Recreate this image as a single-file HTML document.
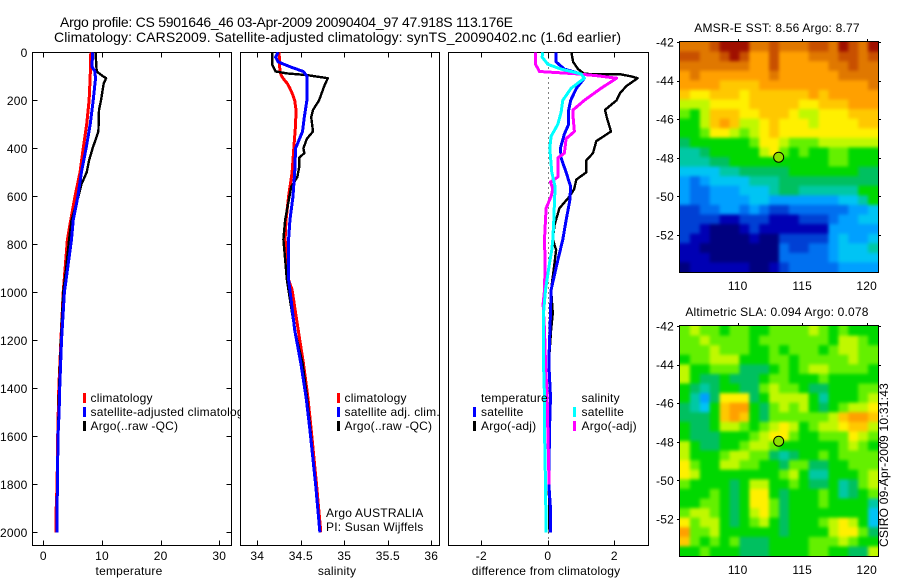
<!DOCTYPE html>
<html>
<head>
<meta charset="utf-8">
<title>Argo profile chart</title>
<style>
html,body{margin:0;padding:0;background:#fff;}
svg{display:block;}
text{font-family:"Liberation Sans",sans-serif;font-size:12px;fill:#000;letter-spacing:.2px;}
.title{font-size:14px;letter-spacing:0;}
</style>
</head>
<body>
<svg id="chart" xmlns="http://www.w3.org/2000/svg" width="900" height="580" viewBox="0 0 900 580">
<defs>
<filter id="mapBlur" filterUnits="userSpaceOnUse" x="640" y="0" width="260" height="580" color-interpolation-filters="sRGB"><feGaussianBlur stdDeviation="1.7"/></filter>
<clipPath id="sstClip"><rect x="680" y="42" width="198" height="230"/></clipPath>
<clipPath id="slaClip"><rect x="680" y="326" width="198" height="230"/></clipPath>
</defs>
<rect x="0" y="0" width="900" height="580" fill="#fff"/>
<g id="layer"></g>
<text class="title" x="60" y="27" textLength="453" lengthAdjust="spacing">Argo profile: CS 5901646_46 03-Apr-2009 20090404_97 47.918S 113.176E</text>
<text class="title" x="54" y="42" textLength="567" lengthAdjust="spacing">Climatology: CARS2009. Satellite-adjusted climatology: synTS_20090402.nc (1.6d earlier)</text>
<text x="129" y="575" text-anchor="middle">temperature</text>
<text x="337" y="575" text-anchor="middle">salinity</text>
<text x="546" y="575" text-anchor="middle">difference from climatology</text>
<text x="777" y="32" text-anchor="middle">AMSR-E SST: 8.56 Argo: 8.77</text>
<text x="777" y="316" text-anchor="middle">Altimetric SLA: 0.094 Argo: 0.078</text>
<text x="0" y="0" transform="translate(888,547) rotate(-90)" textLength="164" lengthAdjust="spacing">CSIRO 09-Apr-2009 10:31:43</text>
</svg>
<script>
/* ---------- temperature panel data ---------- */
const tempClimDepth = [0,100,200,300,400,500,600,700,780,1000,1200,1400,1600,1800,1900,2000];
const tempClimValue = [8.1,8.0,7.8,7.4,6.8,6.25,5.4,4.67,4.1,3.4,3.0,2.65,2.45,2.35,2.2,2.2];
const tempSatDepth = [0,60,80,110,200,300,400,500,600,700,780,1000,1200,1400,1500,1600,1800,2000];
const tempSatValue = [8.4,8.3,8.8,8.9,8.5,8.0,7.3,6.5,5.9,5.1,4.8,3.6,3.1,2.8,2.7,2.5,2.4,2.3];
const tempArgoDepth = [0,80,100,108,130,200,240,330,400,450,500,550,600,700,780,900,1000,1200,1400,1600,1800,2000];
const tempArgoValue = [8.9,9.1,10.2,10.7,10.3,9.83,9.5,9.4,8.4,7.8,7.4,6.5,6.0,4.8,4.4,3.9,3.4,3.0,2.7,2.5,2.4,2.3];
const tempXTicks = [0,10,20,30];
const depthTicks = [0,200,400,600,800,1000,1200,1400,1600,1800,2000];

/* ---------- salinity panel data ---------- */
const salClimDepth = [0,80,100,115,130,150,170,200,240,300,350,400,500,600,700,780,948,990,1157,1295,1435,1573,1800,2000];
const salClimValue = [34.25,34.26,34.28,34.31,34.345,34.375,34.40,34.43,34.445,34.44,34.43,34.42,34.40,34.36,34.33,34.32,34.36,34.40,34.47,34.53,34.58,34.62,34.68,34.73];
const salSatDepth = [0,20,40,60,80,100,200,270,330,400,500,600,700,780,948,990,1157,1295,1435,1573,1800,2000];
const salSatValue = [34.24,34.21,34.24,34.375,34.53,34.57,34.57,34.54,34.52,34.44,34.43,34.41,34.375,34.36,34.36,34.375,34.43,34.50,34.56,34.605,34.67,34.72];
const salArgoDepth = [0,50,80,88,95,108,140,200,240,270,330,360,400,420,440,480,520,560,620,700,780,948,1157,1295,1435,1573,1800,2000];
const salArgoValue = [34.17,34.17,34.21,34.34,34.57,34.81,34.77,34.71,34.64,34.62,34.64,34.57,34.53,34.54,34.48,34.48,34.46,34.39,34.36,34.32,34.30,34.34,34.43,34.52,34.57,34.61,34.67,34.72];
const salXTicks = [34,34.5,35,35.5,36];

/* ---------- difference panel data ---------- */
const diffTempSatDepth = [0,40,70,90,108,150,200,240,300,340,400,440,500,560,620,700,780,879,990,1087,1295,1435,1573,1800,1900,2000];
const diffTempSatValue = [.25,.25,.5,1.0,1.1,.86,.69,.63,.63,.5,.38,.4,.55,.69,.66,.55,.45,.28,.1,.08,.03,.08,.05,.03,.08,.08];
const diffTempArgoDepth = [0,40,70,90,92,100,108,140,170,200,240,270,330,370,420,450,500,530,570,600,650,720,780,823,879,990,1087,1157,1295,1435,1573,1800,2000];
const diffTempArgoValue = [.71,.76,.91,1.1,2.2,2.5,2.7,2.37,2.17,2.07,1.72,1.77,1.9,1.46,1.36,1.16,1.16,.86,.79,.66,.35,.2,.15,.25,.2,.1,.15,.1,.03,.08,.05,.03,.05];
const diffSalSatDepth = [0,20,50,70,90,108,150,200,250,300,350,400,500,560,620,700,780,823,879,990,1087,1295,1435,1573,1800,2000];
const diffSalSatValue = [-.15,-.17,0,.4,1.0,1.1,.7,.45,.4,.3,.1,.06,.12,.22,.2,.18,.15,.12,.05,-.07,-.13,-.13,-.1,-.1,-.07,-.05];
const diffSalArgoDepth = [0,50,80,90,98,108,150,200,240,270,330,360,420,440,480,520,540,570,600,650,780,879,990,1050,1157,1295,1435,1573,1750,1800];
const diffSalArgoValue = [-.37,-.37,-.25,.9,1.5,2.07,1.6,1.1,.76,.76,.8,.55,.5,.3,.3,.3,.08,.15,.1,-.05,-.1,-.08,-.1,-.14,-.1,-.07,-.02,0,.03,.03];
const diffXTicks = [-2,0,2];

/* ---------- map data: colour-scale level per cell, north row first ---------- */
const mapLonTicks = [110,115,120];
const mapLatTicks = [-42,-44,-46,-48,-50,-52];
const argoLon = [113.176];
const argoLat = [-47.918];
const sstGrid = [
[14,14,14,15,16,16,16,14,14,15,14,14,14,15,15,14,16,15,14,16],
[15,15,14,14,15,16,15,13,13,15,13,13,13,14,14,14,15,15,14,15],
[14,14,14,14,14,14,14,13,13,15,13,13,13,13,13,14,14,15,14,14],
[13,14,13,13,13,13,13,13,13,14,13,13,13,13,13,13,14,14,14,14],
[13,13,13,13,12,12,12,12,13,13,13,13,13,13,13,13,13,13,13,14],
[12,11,11,12,12,12,11,12,12,12,12,12,12,13,12,13,13,13,13,13],
[10,10,10,11,11,11,11,12,12,12,12,12,11,11,12,12,12,13,13,13],
[9,8,10,12,12,12,11,11,12,12,12,11,10,10,11,11,11,12,12,12],
[8,8,10,12,13,12,10,10,11,12,11,11,11,10,11,11,11,11,12,12],
[8,8,9,11,11,10,9,10,11,12,11,11,11,11,11,11,11,11,11,11],
[7,8,8,8,8,8,8,9,11,11,10,9,9,9,10,10,10,10,10,10],
[6,6,7,8,8,8,8,8,10,11,9,8,9,8,8,9,9,8,8,8],
[6,6,6,7,7,8,8,8,8,8,8,8,8,8,8,9,9,8,8,8],
[5,5,5,5,6,6,7,7,7,7,7,8,8,8,8,8,8,8,7,7],
[4,3,4,5,5,5,5,6,6,6,7,7,7,7,7,7,7,7,7,7],
[4,3,3,4,4,4,5,5,5,6,7,7,6,6,6,6,6,6,8,8],
[4,3,3,4,4,4,4,5,5,4,4,4,4,4,4,4,5,5,6,8],
[2,2,3,3,4,4,3,4,3,2,2,3,3,3,3,3,3,4,4,5],
[2,2,2,2,1,1,2,2,2,1,1,1,2,2,2,3,4,4,5,5],
[2,2,1,0,0,0,1,2,1,1,1,1,1,1,1,4,4,4,4,4],
[2,1,1,0,0,0,0,1,0,0,2,2,2,2,2,4,5,4,4,5],
[1,1,0,0,0,0,0,0,0,0,3,2,2,3,3,4,5,5,5,6],
[1,1,1,0,0,0,0,0,0,0,3,3,3,3,3,4,5,5,5,5],
[0,1,1,1,1,1,1,0,0,1,2,3,3,3,3,3,4,4,4,4]
];
const slaGrid = [
[9,10,9,9,8,9,9,8,8,9,9,9,9,10,9,8,9,8,8,8],
[9,9,10,9,9,9,9,8,9,9,9,9,9,9,9,8,10,10,9,8],
[9,9,9,10,9,9,9,8,8,9,8,9,9,9,8,9,10,10,9,9],
[8,9,9,10,10,10,8,8,8,9,9,8,9,9,9,9,9,10,9,9],
[10,8,8,9,9,9,7,7,7,8,9,8,9,10,10,9,9,9,9,8],
[10,8,7,7,8,7,7,7,8,9,9,8,8,8,9,8,8,8,8,8],
[8,7,6,7,8,8,7,7,9,10,9,9,8,7,7,8,8,8,9,9],
[8,6,4,7,11,11,11,7,8,10,10,10,10,8,6,8,8,8,9,10],
[7,6,5,8,12,13,13,8,7,9,10,9,10,8,7,8,9,10,10,11],
[7,7,7,8,12,13,12,8,7,9,9,9,9,9,9,10,12,13,13,12],
[8,7,7,8,10,10,9,8,9,10,11,10,8,9,10,10,11,12,12,10],
[8,7,7,7,8,8,8,9,10,11,11,9,8,8,9,9,9,11,10,9],
[10,8,7,7,8,8,9,10,10,9,8,8,8,8,8,8,9,10,9,8],
[10,8,8,8,9,10,10,9,9,7,6,7,8,8,9,8,9,9,9,9],
[11,9,8,8,10,10,9,9,8,8,7,9,9,7,7,8,8,9,9,9],
[11,10,8,8,8,8,8,8,8,8,9,10,8,6,6,8,8,8,9,10],
[9,8,8,8,8,7,8,10,10,8,8,9,8,7,7,8,6,7,9,10],
[8,8,8,9,8,7,8,11,11,8,7,8,8,8,9,8,6,7,8,9],
[8,8,9,9,8,7,8,11,11,9,7,8,8,8,9,8,8,8,8,6],
[9,10,10,9,8,7,8,10,11,9,7,8,8,8,8,8,8,8,8,5],
[11,9,10,10,8,7,8,9,10,8,7,8,8,8,9,10,11,10,8,5],
[13,9,9,10,8,8,8,8,8,8,7,8,8,8,8,10,11,11,9,7],
[12,9,8,9,8,9,7,7,7,8,8,8,8,9,9,9,10,9,8,8],
[8,8,9,8,8,8,7,7,7,8,8,8,8,9,9,8,8,7,7,10]
];

/* ---------- rendering ---------- */
const NS = 'http://www.w3.org/2000/svg';
const layer = document.getElementById('layer');
const colorScale = ['#00007f','#0000b4','#0040d4','#0070f0','#00a0ff','#00c4f4','#00c8a4','#00c060','#00d800','#64f000','#c0f800','#fff000','#ffc800','#ffa000','#e07800','#c85000','#a01000'];

function make(tag, attrs, parent) {
  const n = document.createElementNS(NS, tag);
  for (const k in attrs) n.setAttribute(k, attrs[k]);
  (parent || layer).appendChild(n);
  return n;
}
function linear(d0, d1, r0, r1) {
  return function (v) { return r0 + (v - d0) * (r1 - r0) / (d1 - d0); };
}
const depthY = linear(0, 2000, 52.3, 532.3);
const PANEL_TOP = 52.5, PANEL_BOTTOM = 545.5;

function drawPanel(name, left, right, xScale, xTicks, xFormat) {
  const bg = make('rect', {x: left, y: PANEL_TOP, width: right - left, height: PANEL_BOTTOM - PANEL_TOP, fill: '#fff', stroke: '#000', 'stroke-width': 1, 'shape-rendering': 'crispEdges'});
  
  
  xTicks.forEach(function (t) {
    const x = Math.round(xScale(t)) + 0.5;
    const top = make('line', {x1: x, x2: x, y1: PANEL_TOP, y2: PANEL_TOP + 5, stroke: '#000', 'shape-rendering': 'crispEdges'});
    
    
    const bot = make('line', {x1: x, x2: x, y1: PANEL_BOTTOM - 5, y2: PANEL_BOTTOM, stroke: '#000', 'shape-rendering': 'crispEdges'});
    
    
    const lab = make('text', {x: xScale(t), y: 560, 'text-anchor': 'middle'});
    
    
    lab.textContent = xFormat(t);
  });
}
function drawLine(name, depths, values, xScale, color, width) {
  const pts = depths.map(function (d, i) { return xScale(values[i]).toFixed(1) + ',' + depthY(d).toFixed(1); }).join(' ');
  const p = make('polyline', {points: pts, fill: 'none', stroke: color, 'stroke-width': width, 'stroke-linejoin': 'round', 'shape-rendering': 'crispEdges'});
  
  
}
function drawLegend(entries) {
  entries.forEach(function (e) {
    if (e.color) {
      const m = make('rect', {x: e.mx, y: e.y - 9, width: 3, height: 10, fill: e.color, 'shape-rendering': 'crispEdges'});
      
      
    }
    const t = make('text', {x: e.x, y: e.y});
    
    
    t.textContent = e.label;
  });
}

/* temperature panel */
const tempX = linear(0, 30, 43.3, 219.3);
drawPanel('temperature', 32.5, 231.5, tempX, tempXTicks, String);
depthTicks.forEach(function (d) {
  const y = Math.round(depthY(d)) + 0.5;
  const a = make('line', {x1: 32.5, x2: 37.5, y1: y, y2: y, stroke: '#000', 'shape-rendering': 'crispEdges'});
  
  
  const b = make('line', {x1: 226.5, x2: 231.5, y1: y, y2: y, stroke: '#000', 'shape-rendering': 'crispEdges'});
  
  
  const lab = make('text', {x: 27.5, y: depthY(d) + 4.5, 'text-anchor': 'end'});
  
  
  lab.textContent = d;
});
drawLine('temperature-climatology-line', tempClimDepth, tempClimValue, tempX, '#ff0000', 3);
drawLine('temperature-argo-line', tempArgoDepth, tempArgoValue, tempX, '#000000', 2.4);
drawLine('temperature-satellite-line', tempSatDepth, tempSatValue, tempX, '#0000ff', 3);
drawLegend([
  {mx: 83, x: 90.5, y: 402, color: '#ff0000', label: 'climatology'},
  {mx: 83, x: 90.5, y: 416, color: '#0000ff', label: 'satellite-adjusted climatology'},
  {mx: 83, x: 90.5, y: 430, color: '#000000', label: 'Argo(..raw -QC)'}
]);

/* salinity panel (its opaque background clips the overflowing legend text above) */
const salX = linear(34, 36, 257.3, 431.3);
const gapMask = make('rect', {x: 240, y: 380, width: 10, height: 60, fill: '#fff'});


drawPanel('salinity', 240.5, 439.5, salX, salXTicks, String);
drawLine('salinity-climatology-line', salClimDepth, salClimValue, salX, '#ff0000', 3);
drawLine('salinity-argo-line', salArgoDepth, salArgoValue, salX, '#000000', 2.4);
drawLine('salinity-satellite-line', salSatDepth, salSatValue, salX, '#0000ff', 3);
drawLegend([
  {mx: 337, x: 344.5, y: 402, color: '#ff0000', label: 'climatology'},
  {mx: 337, x: 344.5, y: 416, color: '#0000ff', label: 'satellite adj. clim.'},
  {mx: 337, x: 344.5, y: 430, color: '#000000', label: 'Argo(..raw -QC)'},
  {x: 326, y: 517, label: 'Argo AUSTRALIA'},
  {x: 326, y: 531, label: 'PI: Susan Wijffels'}
]);

/* difference panel */
const diffX = linear(-2, 2, 481.3, 614.3);
drawPanel('difference', 448.5, 648.5, diffX, diffXTicks, String);
const zeroX = Math.round(diffX(0)) + 0.5;
const zero = make('line', {x1: zeroX, x2: zeroX, y1: PANEL_TOP, y2: PANEL_BOTTOM, stroke: '#000', 'stroke-width': 1, 'stroke-dasharray': '1 4', 'shape-rendering': 'crispEdges'});


drawLine('difference-temperature-argo-line', diffTempArgoDepth, diffTempArgoValue, diffX, '#000000', 2.4);
drawLine('difference-temperature-satellite-line', diffTempSatDepth, diffTempSatValue, diffX, '#0000ff', 3);
drawLine('difference-salinity-argo-line', diffSalArgoDepth, diffSalArgoValue, diffX, '#ff00ff', 3);
drawLine('difference-salinity-satellite-line', diffSalSatDepth, diffSalSatValue, diffX, '#00ffff', 3);
drawLegend([
  {x: 481, y: 402, label: 'temperature'},
  {mx: 473, x: 481, y: 416, color: '#0000ff', label: 'satellite'},
  {mx: 473, x: 481, y: 430, color: '#000000', label: 'Argo(-adj)'},
  {x: 581.5, y: 402, label: 'salinity'},
  {mx: 573, x: 581.5, y: 416, color: '#00ffff', label: 'satellite'},
  {mx: 573, x: 581.5, y: 430, color: '#ff00ff', label: 'Argo(-adj)'}
]);

/* maps */
function drawMap(name, grid, top, bottom, clipId) {
  const left = 680, right = 878, bleed = 12;
  const lonX = linear(110, 120, 737.7, 866.7);
  const latY = linear(-42, -52, top, top + 193);
  const rows = grid.length, cols = grid[0].length;
  const cw = (right - left) / cols, ch = (bottom - top) / rows;
  const clipGroup = make('g', {'clip-path': 'url(#' + clipId + ')'});
  
  
  const blurGroup = make('g', {filter: 'url(#mapBlur)'}, clipGroup);
  grid.forEach(function (row, r) {
    row.forEach(function (v, c) {
      const x0 = c === 0 ? left - bleed : left + c * cw;
      const x1 = c === cols - 1 ? right + bleed : left + (c + 1) * cw + 0.4;
      const y0 = r === 0 ? top - bleed : top + r * ch;
      const y1 = r === rows - 1 ? bottom + bleed : top + (r + 1) * ch + 0.4;
      const cell = make('rect', {x: x0.toFixed(2), y: y0.toFixed(2), width: (x1 - x0).toFixed(2), height: (y1 - y0).toFixed(2), fill: colorScale[v]}, blurGroup);
      
      
    });
  });
  const frame = make('rect', {x: left - 0.5, y: top - 0.5, width: right - left + 1, height: bottom - top + 1, fill: 'none', stroke: '#000', 'shape-rendering': 'crispEdges'});
  
  
  mapLatTicks.forEach(function (lat) {
    const y = Math.round(latY(lat)) + 0.5;
    const a = make('line', {x1: left - 3, x2: left, y1: y, y2: y, stroke: '#000', 'shape-rendering': 'crispEdges'});
    
    
    const b = make('line', {x1: right, x2: right + 3, y1: y, y2: y, stroke: '#000', 'shape-rendering': 'crispEdges'});
    
    
    const lab = make('text', {x: 674, y: latY(lat) + 4.5, 'text-anchor': 'end'});
    
    
    lab.textContent = lat;
  });
  mapLonTicks.forEach(function (lon) {
    const x = Math.round(lonX(lon)) + 0.5;
    const t = make('line', {x1: x, x2: x, y1: top - 3, y2: top, stroke: '#000', 'shape-rendering': 'crispEdges'});
    
    
    const lab = make('text', {x: lonX(lon), y: bottom + 18, 'text-anchor': 'middle'});
    
    
    lab.textContent = lon;
  });
  const dot = make('circle', {cx: lonX(argoLon[0]), cy: latY(argoLat[0]) + 1, r: 5, fill: '#8ee000', stroke: '#000', 'stroke-width': 1});
  
  
}
drawMap('sst-map', sstGrid, 42, 272, 'sstClip');
drawMap('sla-map', slaGrid, 326, 556, 'slaClip');
</script>
</body>
</html>
